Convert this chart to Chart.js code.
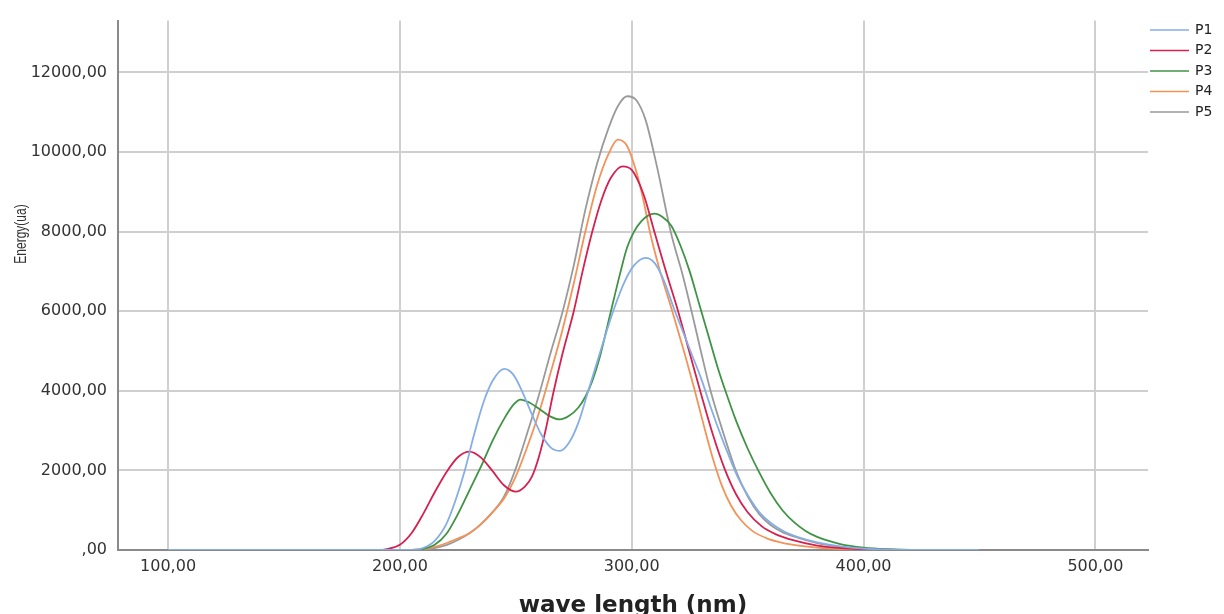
<!DOCTYPE html>
<html>
<head>
<meta charset="utf-8">
<script src="https://cdn.jsdelivr.net/npm/chart.js@4"></script>
<style>
  html, body { margin:0; padding:0; background:#fff; }
  canvas { display:block; }
</style>
</head>
<body>
<canvas id="chart" width="1224" height="614"></canvas>
<script>
/* ---------- DATA ---------- */
const seriesNames = ["P1","P2","P3","P4","P5"];
const xTitle = "wave length (nm)";
const yTitle = "Energy(ua)";
const xTickValues = [100,200,300,400,500];
const yTickValues = [0,2000,4000,6000,8000,10000,12000];

const p1Wave   = [100,205,210,215,220,224,228,232,236,240,245,249,253,257,261,265,269,273,277,281,286,292,297,301,306,310,314,318,322,326,330,334,338,342,346,350,355,360,366,372,380,390,400,415,450];
const p1Energy = [0,0,50,230,650,1250,2000,2900,3700,4250,4550,4400,3950,3400,2900,2580,2490,2700,3200,3950,4900,6000,6750,7150,7340,7200,6750,6100,5500,4900,4300,3600,2950,2350,1800,1380,950,680,460,320,190,90,35,5,0];

const p2Wave   = [100,190,195,200,205,210,215,220,225,230,235,240,245,250,254,257,260,263,266,270,275,279,283,287,291,296,300,305,310,315,320,325,330,335,340,345,350,356,362,370,380,390,400,415,450];
const p2Energy = [0,0,30,130,420,900,1450,1950,2330,2470,2320,1980,1620,1465,1600,1850,2350,3050,3900,4900,6000,7050,8000,8800,9350,9640,9550,8950,7950,6950,6000,4950,3900,2900,2050,1400,950,600,400,240,110,50,20,3,0];

const p3Wave   = [100,205,210,215,220,225,230,235,240,245,249,252,256,260,265,269,273,277,280,283,286,290,295,298,301,304,307,310,313,317,321,325,329,333,337,341,345,350,355,360,365,370,375,380,390,400,410,425,450];
const p3Energy = [0,0,30,130,400,900,1500,2100,2750,3300,3650,3780,3700,3550,3350,3280,3370,3580,3850,4250,4800,5750,6950,7600,8000,8250,8400,8450,8380,8150,7650,7000,6200,5400,4600,3900,3250,2550,1950,1420,1000,700,480,330,150,60,20,2,0];

const p4Wave   = [100,200,210,215,220,225,230,235,240,245,250,255,260,265,270,275,280,285,290,294,298,302,305,308,312,318,323,327,331,335,339,343,347,352,358,365,372,380,390,400,415,450];
const p4Energy = [0,0,30,80,170,290,420,650,950,1300,1850,2600,3450,4450,5500,6700,8000,9150,9950,10310,10150,9500,8800,7950,7050,5900,4900,4050,3150,2300,1600,1100,760,480,300,180,110,60,25,8,1,0];

const p5Wave   = [100,205,215,220,225,230,235,240,245,250,255,260,265,270,275,280,285,290,294,298,302,306,311,317,322,326,330,334,340,345,350,355,360,365,370,380,390,400,415,450];
const p5Energy = [0,0,50,120,250,420,650,950,1350,2050,2950,3900,4950,5950,7150,8550,9700,10600,11150,11400,11300,10800,9600,7950,6900,5950,4950,4000,2850,1980,1350,900,620,450,340,170,80,30,4,0];

const waves = [p1Wave, p2Wave, p3Wave, p4Wave, p5Wave];
const energies = [p1Energy, p2Energy, p3Energy, p4Energy, p5Energy];
const lineColors = ["#86aee6","#d6204f","#3f9444","#f3935a","#9a9a9a"];

/* ---------- HELPERS ---------- */
function fmtComma(v){
  if(v===0) return ",00";
  return v.toFixed(2).replace(".", ",");
}

const datasets = seriesNames.map((name,i)=>({
  label:name,
  data:waves[i].map((w,j)=>({x:w, y:energies[i][j]})),
  borderColor:lineColors[i],
  backgroundColor:lineColors[i],
  borderWidth:1.8,
  pointRadius:0,
  fill:false,
  cubicInterpolationMode:"monotone"
}));

/* ---------- LEGEND + Y TITLE ---------- */
const extras = {
  id:"extras",
  afterDraw(chart){
    const ctx = chart.ctx;
    ctx.save();
    ctx.translate(22, 234);
    ctx.rotate(-Math.PI/2);
    ctx.scale(1, 1.3);
    ctx.font = '12px "Liberation Sans", Arial, sans-serif';
    ctx.fillStyle = "#333";
    ctx.textAlign = "center";
    ctx.textBaseline = "middle";
    ctx.fillText(yTitle, 0, 0);
    ctx.restore();

    ctx.save();
    ctx.font = '14px "DejaVu Sans", sans-serif';
    ctx.textBaseline = "middle";
    ctx.textAlign = "left";
    seriesNames.forEach((name,i)=>{
      const y = 30 + i*20.5;
      ctx.strokeStyle = lineColors[i];
      ctx.lineWidth = 1.6;
      ctx.beginPath(); ctx.moveTo(1150, y); ctx.lineTo(1189, y); ctx.stroke();
      ctx.fillStyle = "#222";
      ctx.fillText(name, 1195, y);
    });
    ctx.restore();
  }
};

const tickFont = {family:"DejaVu Sans", size:16};
const gridStyle = {color:"#cfcfcf", lineWidth:2, drawTicks:false};
const borderStyle = {color:"#8a8a8a", width:2};

new Chart(document.getElementById("chart").getContext("2d"),{
  type:"line",
  data:{datasets},
  options:{
    responsive:false,
    animation:false,
    devicePixelRatio:1,
    layout:{padding:{left:0, top:19.5, right:76, bottom:0}},
    plugins:{legend:{display:false}, tooltip:{enabled:false}},
    scales:{
      x:{
        type:"linear", min:78.4, max:522.7,
        afterFit(s){ s.height = 64; },
        afterBuildTicks(s){ s.ticks = xTickValues.map(v=>({value:v})); },
        ticks:{padding:7, font:tickFont, color:"#333", callback:fmtComma, maxRotation:0, autoSkip:false},
        grid:gridStyle,
        border:borderStyle,
        title:{display:true, text:xTitle, color:"#222", padding:0, font:{family:"DejaVu Sans", size:23, weight:"bold", lineHeight:0.7}}
      },
      y:{
        min:0, max:13300,
        afterFit(s){ s.width = 118; },
        afterBuildTicks(s){ s.ticks = yTickValues.map(v=>({value:v})); },
        ticks:{padding:11, font:tickFont, color:"#333", callback:fmtComma, autoSkip:false},
        grid:gridStyle,
        border:borderStyle
      }
    }
  },
  plugins:[extras]
});
</script>
</body>
</html>
